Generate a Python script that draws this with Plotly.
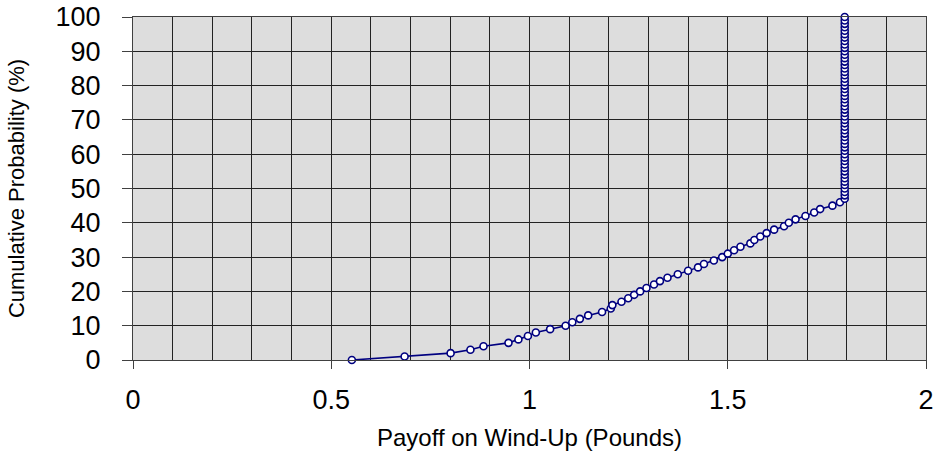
import plotly.graph_objects as go

# Cumulative probability (%) and payoff (pounds)
cum_prob = list(range(0, 101))
payoff_curve = [0.552, 0.685, 0.801, 0.851, 0.884, 0.947, 0.972, 0.996, 1.016, 1.052,
                1.091, 1.108, 1.127, 1.148, 1.183, 1.205, 1.209, 1.232, 1.249, 1.264,
                1.279, 1.295, 1.314, 1.329, 1.348, 1.374, 1.400, 1.425, 1.440, 1.465,
                1.486, 1.500, 1.516, 1.532, 1.557, 1.567, 1.582, 1.598, 1.617, 1.642,
                1.654, 1.671, 1.696, 1.718, 1.733, 1.764, 1.783, 1.795]
payoff_cap = [1.795] * (101 - len(payoff_curve))
payoff = payoff_curve + payoff_cap

x_ticks = [0, 0.5, 1, 1.5, 2]
x_tick_labels = ["0", "0.5", "1", "1.5", "2"]
y_ticks = [0, 10, 20, 30, 40, 50, 60, 70, 80, 90, 100]

font_family = "Liberation Sans, Arial, sans-serif"

fig = go.Figure()
fig.add_trace(go.Scatter(
    x=payoff, y=cum_prob, mode="lines+markers",
    line=dict(color="#000080", width=1.6),
    marker=dict(symbol="circle", size=7, color="white",
                line=dict(color="#000080", width=1.6)),
    cliponaxis=False, showlegend=False,
))

fig.update_layout(
    width=938, height=461,
    margin=dict(l=133, r=12, t=17, b=101),
    plot_bgcolor="#DDDDDD", paper_bgcolor="white",
    font=dict(family=font_family, color="black"),
    xaxis=dict(
        range=[0, 2], tickvals=x_ticks, ticktext=x_tick_labels,
        ticks="outside", ticklen=8, tickcolor="#404040", tickwidth=1,
        showgrid=True, gridcolor="#222222", gridwidth=1,
        minor=dict(dtick=0.1, showgrid=True, gridcolor="#222222", gridwidth=1, ticks=""),
        showline=True, linecolor="#404040", linewidth=1, mirror=True,
        zeroline=False, tickfont=dict(size=27), ticklabelstandoff=8,
        automargin=False,
        title=dict(text="Payoff on Wind-Up (Pounds)", font=dict(size=24), standoff=14),
    ),
    yaxis=dict(
        range=[0, 100], tickvals=y_ticks,
        ticks="outside", ticklen=10, tickcolor="#404040", tickwidth=1,
        showgrid=True, gridcolor="#222222", gridwidth=1,
        showline=True, linecolor="#404040", linewidth=1, mirror=True,
        zeroline=False, tickfont=dict(size=27), ticklabelstandoff=16,
        automargin=False,
        title=dict(text="Cumulative Probability (%)", font=dict(size=22), standoff=24),
    ),
)

fig.write_html("out.html",
               config={"displayModeBar": False},
               post_script="document.body.style.margin='0';document.body.style.overflow='hidden';")
